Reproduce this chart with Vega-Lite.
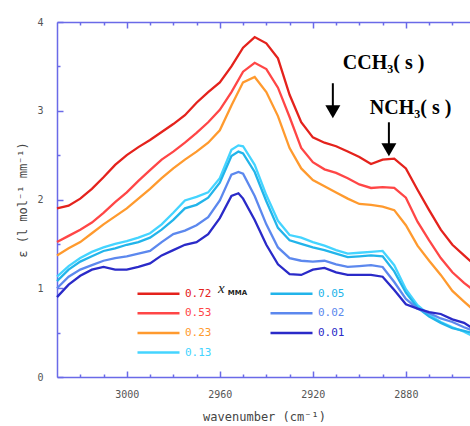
{
  "$schema": "https://vega.github.io/schema/vega-lite/v6.json",
  "width": 414,
  "height": 355,
  "autosize": {"type": "none"},
  "padding": {"left": 57, "top": 22, "right": 0, "bottom": 49},
  "config": {
    "view": {"stroke": null},
    "axis": {
      "domainColor": "#6a6ae8",
      "tickColor": "#6a6ae8",
      "domainWidth": 1.5,
      "tickWidth": 1.5,
      "grid": false,
      "labelFont": "DejaVu Sans Mono",
      "titleFont": "DejaVu Sans Mono",
      "labelColor": "#555555",
      "titleColor": "#444444",
      "labelFontSize": 10,
      "titleFontSize": 12,
      "titleFontWeight": "normal"
    }
  },
  "datasets": {
    "curves": [
      {"x":"0.72","wn":3030,"e":1.90},{"x":"0.72","wn":3025,"e":1.93},{"x":"0.72","wn":3020,"e":2.01},{"x":"0.72","wn":3015,"e":2.12},{"x":"0.72","wn":3010,"e":2.25},{"x":"0.72","wn":3005,"e":2.39},{"x":"0.72","wn":3000,"e":2.50},{"x":"0.72","wn":2995,"e":2.59},{"x":"0.72","wn":2990,"e":2.67},{"x":"0.72","wn":2985,"e":2.76},{"x":"0.72","wn":2980,"e":2.85},{"x":"0.72","wn":2975,"e":2.95},{"x":"0.72","wn":2970,"e":3.09},{"x":"0.72","wn":2965,"e":3.21},{"x":"0.72","wn":2960,"e":3.32},{"x":"0.72","wn":2955,"e":3.50},{"x":"0.72","wn":2950,"e":3.71},{"x":"0.72","wn":2945,"e":3.83},{"x":"0.72","wn":2940,"e":3.76},{"x":"0.72","wn":2935,"e":3.59},{"x":"0.72","wn":2930,"e":3.18},{"x":"0.72","wn":2925,"e":2.87},{"x":"0.72","wn":2920,"e":2.70},{"x":"0.72","wn":2915,"e":2.64},{"x":"0.72","wn":2910,"e":2.60},{"x":"0.72","wn":2905,"e":2.54},{"x":"0.72","wn":2900,"e":2.48},{"x":"0.72","wn":2895,"e":2.40},{"x":"0.72","wn":2890,"e":2.45},{"x":"0.72","wn":2885,"e":2.46},{"x":"0.72","wn":2880,"e":2.35},{"x":"0.72","wn":2875,"e":2.11},{"x":"0.72","wn":2870,"e":1.88},{"x":"0.72","wn":2865,"e":1.66},{"x":"0.72","wn":2860,"e":1.49},{"x":"0.72","wn":2855,"e":1.37},{"x":"0.72","wn":2852,"e":1.30},
      {"x":"0.53","wn":3030,"e":1.52},{"x":"0.53","wn":3025,"e":1.59},{"x":"0.53","wn":3020,"e":1.66},{"x":"0.53","wn":3015,"e":1.74},{"x":"0.53","wn":3010,"e":1.85},{"x":"0.53","wn":3005,"e":1.97},{"x":"0.53","wn":3000,"e":2.08},{"x":"0.53","wn":2995,"e":2.21},{"x":"0.53","wn":2990,"e":2.33},{"x":"0.53","wn":2985,"e":2.45},{"x":"0.53","wn":2980,"e":2.54},{"x":"0.53","wn":2975,"e":2.64},{"x":"0.53","wn":2970,"e":2.75},{"x":"0.53","wn":2965,"e":2.87},{"x":"0.53","wn":2960,"e":3.01},{"x":"0.53","wn":2955,"e":3.21},{"x":"0.53","wn":2950,"e":3.44},{"x":"0.53","wn":2945,"e":3.54},{"x":"0.53","wn":2940,"e":3.47},{"x":"0.53","wn":2935,"e":3.26},{"x":"0.53","wn":2930,"e":2.93},{"x":"0.53","wn":2925,"e":2.58},{"x":"0.53","wn":2920,"e":2.42},{"x":"0.53","wn":2915,"e":2.34},{"x":"0.53","wn":2910,"e":2.30},{"x":"0.53","wn":2905,"e":2.24},{"x":"0.53","wn":2900,"e":2.17},{"x":"0.53","wn":2895,"e":2.13},{"x":"0.53","wn":2890,"e":2.14},{"x":"0.53","wn":2885,"e":2.13},{"x":"0.53","wn":2880,"e":2.02},{"x":"0.53","wn":2875,"e":1.75},{"x":"0.53","wn":2870,"e":1.54},{"x":"0.53","wn":2865,"e":1.34},{"x":"0.53","wn":2860,"e":1.18},{"x":"0.53","wn":2855,"e":1.06},{"x":"0.53","wn":2852,"e":1.00},
      {"x":"0.23","wn":3030,"e":1.37},{"x":"0.23","wn":3025,"e":1.45},{"x":"0.23","wn":3020,"e":1.52},{"x":"0.23","wn":3015,"e":1.62},{"x":"0.23","wn":3010,"e":1.72},{"x":"0.23","wn":3005,"e":1.81},{"x":"0.23","wn":3000,"e":1.90},{"x":"0.23","wn":2995,"e":2.01},{"x":"0.23","wn":2990,"e":2.12},{"x":"0.23","wn":2985,"e":2.24},{"x":"0.23","wn":2980,"e":2.35},{"x":"0.23","wn":2975,"e":2.45},{"x":"0.23","wn":2970,"e":2.54},{"x":"0.23","wn":2965,"e":2.64},{"x":"0.23","wn":2960,"e":2.78},{"x":"0.23","wn":2955,"e":3.06},{"x":"0.23","wn":2950,"e":3.32},{"x":"0.23","wn":2945,"e":3.38},{"x":"0.23","wn":2940,"e":3.21},{"x":"0.23","wn":2935,"e":2.94},{"x":"0.23","wn":2930,"e":2.58},{"x":"0.23","wn":2925,"e":2.35},{"x":"0.23","wn":2920,"e":2.22},{"x":"0.23","wn":2915,"e":2.15},{"x":"0.23","wn":2910,"e":2.08},{"x":"0.23","wn":2905,"e":2.01},{"x":"0.23","wn":2900,"e":1.95},{"x":"0.23","wn":2895,"e":1.94},{"x":"0.23","wn":2890,"e":1.92},{"x":"0.23","wn":2885,"e":1.88},{"x":"0.23","wn":2880,"e":1.71},{"x":"0.23","wn":2875,"e":1.48},{"x":"0.23","wn":2870,"e":1.31},{"x":"0.23","wn":2865,"e":1.15},{"x":"0.23","wn":2860,"e":0.97},{"x":"0.23","wn":2855,"e":0.85},{"x":"0.23","wn":2852,"e":0.78},
      {"x":"0.13","wn":3030,"e":1.13},{"x":"0.13","wn":3025,"e":1.25},{"x":"0.13","wn":3020,"e":1.34},{"x":"0.13","wn":3015,"e":1.41},{"x":"0.13","wn":3010,"e":1.46},{"x":"0.13","wn":3005,"e":1.50},{"x":"0.13","wn":3000,"e":1.53},{"x":"0.13","wn":2995,"e":1.57},{"x":"0.13","wn":2990,"e":1.62},{"x":"0.13","wn":2985,"e":1.72},{"x":"0.13","wn":2980,"e":1.85},{"x":"0.13","wn":2975,"e":1.99},{"x":"0.13","wn":2970,"e":2.03},{"x":"0.13","wn":2965,"e":2.08},{"x":"0.13","wn":2960,"e":2.24},{"x":"0.13","wn":2955,"e":2.56},{"x":"0.13","wn":2952,"e":2.61},{"x":"0.13","wn":2950,"e":2.60},{"x":"0.13","wn":2945,"e":2.39},{"x":"0.13","wn":2940,"e":2.05},{"x":"0.13","wn":2935,"e":1.76},{"x":"0.13","wn":2930,"e":1.60},{"x":"0.13","wn":2925,"e":1.57},{"x":"0.13","wn":2920,"e":1.52},{"x":"0.13","wn":2915,"e":1.48},{"x":"0.13","wn":2910,"e":1.43},{"x":"0.13","wn":2905,"e":1.39},{"x":"0.13","wn":2900,"e":1.40},{"x":"0.13","wn":2895,"e":1.41},{"x":"0.13","wn":2890,"e":1.42},{"x":"0.13","wn":2885,"e":1.26},{"x":"0.13","wn":2880,"e":0.99},{"x":"0.13","wn":2875,"e":0.81},{"x":"0.13","wn":2870,"e":0.70},{"x":"0.13","wn":2865,"e":0.62},{"x":"0.13","wn":2860,"e":0.56},{"x":"0.13","wn":2855,"e":0.51},{"x":"0.13","wn":2852,"e":0.47},
      {"x":"0.05","wn":3030,"e":1.08},{"x":"0.05","wn":3025,"e":1.21},{"x":"0.05","wn":3020,"e":1.30},{"x":"0.05","wn":3015,"e":1.36},{"x":"0.05","wn":3010,"e":1.42},{"x":"0.05","wn":3005,"e":1.45},{"x":"0.05","wn":3000,"e":1.49},{"x":"0.05","wn":2995,"e":1.52},{"x":"0.05","wn":2990,"e":1.57},{"x":"0.05","wn":2985,"e":1.66},{"x":"0.05","wn":2980,"e":1.77},{"x":"0.05","wn":2975,"e":1.90},{"x":"0.05","wn":2970,"e":1.94},{"x":"0.05","wn":2965,"e":2.02},{"x":"0.05","wn":2960,"e":2.19},{"x":"0.05","wn":2955,"e":2.49},{"x":"0.05","wn":2952,"e":2.54},{"x":"0.05","wn":2950,"e":2.52},{"x":"0.05","wn":2945,"e":2.31},{"x":"0.05","wn":2940,"e":1.98},{"x":"0.05","wn":2935,"e":1.68},{"x":"0.05","wn":2930,"e":1.54},{"x":"0.05","wn":2925,"e":1.50},{"x":"0.05","wn":2920,"e":1.46},{"x":"0.05","wn":2915,"e":1.43},{"x":"0.05","wn":2910,"e":1.39},{"x":"0.05","wn":2905,"e":1.35},{"x":"0.05","wn":2900,"e":1.36},{"x":"0.05","wn":2895,"e":1.37},{"x":"0.05","wn":2890,"e":1.36},{"x":"0.05","wn":2885,"e":1.19},{"x":"0.05","wn":2880,"e":0.95},{"x":"0.05","wn":2875,"e":0.78},{"x":"0.05","wn":2870,"e":0.68},{"x":"0.05","wn":2865,"e":0.61},{"x":"0.05","wn":2860,"e":0.55},{"x":"0.05","wn":2855,"e":0.52},{"x":"0.05","wn":2852,"e":0.50},
      {"x":"0.02","wn":3030,"e":1.00},{"x":"0.02","wn":3025,"e":1.13},{"x":"0.02","wn":3020,"e":1.21},{"x":"0.02","wn":3015,"e":1.26},{"x":"0.02","wn":3010,"e":1.31},{"x":"0.02","wn":3005,"e":1.34},{"x":"0.02","wn":3000,"e":1.36},{"x":"0.02","wn":2995,"e":1.39},{"x":"0.02","wn":2990,"e":1.42},{"x":"0.02","wn":2985,"e":1.52},{"x":"0.02","wn":2980,"e":1.61},{"x":"0.02","wn":2975,"e":1.65},{"x":"0.02","wn":2970,"e":1.71},{"x":"0.02","wn":2965,"e":1.80},{"x":"0.02","wn":2960,"e":1.99},{"x":"0.02","wn":2955,"e":2.28},{"x":"0.02","wn":2952,"e":2.31},{"x":"0.02","wn":2950,"e":2.29},{"x":"0.02","wn":2945,"e":2.04},{"x":"0.02","wn":2940,"e":1.72},{"x":"0.02","wn":2935,"e":1.46},{"x":"0.02","wn":2930,"e":1.34},{"x":"0.02","wn":2925,"e":1.31},{"x":"0.02","wn":2920,"e":1.30},{"x":"0.02","wn":2915,"e":1.31},{"x":"0.02","wn":2910,"e":1.27},{"x":"0.02","wn":2905,"e":1.24},{"x":"0.02","wn":2900,"e":1.25},{"x":"0.02","wn":2895,"e":1.26},{"x":"0.02","wn":2890,"e":1.24},{"x":"0.02","wn":2885,"e":1.07},{"x":"0.02","wn":2880,"e":0.88},{"x":"0.02","wn":2875,"e":0.77},{"x":"0.02","wn":2870,"e":0.72},{"x":"0.02","wn":2865,"e":0.66},{"x":"0.02","wn":2860,"e":0.62},{"x":"0.02","wn":2855,"e":0.56},{"x":"0.02","wn":2852,"e":0.53},
      {"x":"0.01","wn":3030,"e":0.90},{"x":"0.01","wn":3025,"e":1.04},{"x":"0.01","wn":3020,"e":1.14},{"x":"0.01","wn":3015,"e":1.21},{"x":"0.01","wn":3010,"e":1.24},{"x":"0.01","wn":3005,"e":1.21},{"x":"0.01","wn":3000,"e":1.21},{"x":"0.01","wn":2995,"e":1.24},{"x":"0.01","wn":2990,"e":1.28},{"x":"0.01","wn":2985,"e":1.37},{"x":"0.01","wn":2980,"e":1.43},{"x":"0.01","wn":2975,"e":1.49},{"x":"0.01","wn":2970,"e":1.52},{"x":"0.01","wn":2965,"e":1.61},{"x":"0.01","wn":2960,"e":1.79},{"x":"0.01","wn":2955,"e":2.04},{"x":"0.01","wn":2952,"e":2.07},{"x":"0.01","wn":2950,"e":2.01},{"x":"0.01","wn":2945,"e":1.77},{"x":"0.01","wn":2940,"e":1.49},{"x":"0.01","wn":2935,"e":1.27},{"x":"0.01","wn":2930,"e":1.16},{"x":"0.01","wn":2925,"e":1.15},{"x":"0.01","wn":2920,"e":1.21},{"x":"0.01","wn":2915,"e":1.23},{"x":"0.01","wn":2910,"e":1.18},{"x":"0.01","wn":2905,"e":1.15},{"x":"0.01","wn":2900,"e":1.15},{"x":"0.01","wn":2895,"e":1.15},{"x":"0.01","wn":2890,"e":1.13},{"x":"0.01","wn":2885,"e":0.98},{"x":"0.01","wn":2880,"e":0.82},{"x":"0.01","wn":2875,"e":0.77},{"x":"0.01","wn":2870,"e":0.73},{"x":"0.01","wn":2865,"e":0.71},{"x":"0.01","wn":2860,"e":0.65},{"x":"0.01","wn":2855,"e":0.61},{"x":"0.01","wn":2852,"e":0.56}
    ],
    "arrows": [
      {"wn": 2911.4, "e": 3.31, "e1": 2.99},
      {"wn": 2887.3, "e": 2.87, "e1": 2.56}
    ],
    "notes": [
      {"wn": 2907.1, "e": 3.54, "t": "CCH₃(  s  )"},
      {"wn": 2895.5, "e": 3.03, "t": "NCH₃(  s  )"}
    ],
    "legtitle": [
      {"wn": 2959.3, "e": 1.0, "t": "x"},
      {"wn": 2956.6, "e": 0.95, "t": "MMA"}
    ]
  },
  "layer": [
    {
      "data": {"name": "curves"},
      "mark": {"type": "line", "strokeWidth": 2.3},
      "encoding": {
        "x": {
          "field": "wn", "type": "quantitative",
          "scale": {"domain": [2852, 3030], "reverse": true, "nice": false, "zero": false},
          "axis": {
            "orient": "bottom",
            "values": [3020,3010,3000,2990,2980,2970,2960,2950,2940,2930,2920,2910,2900,2890,2880,2870,2860],
            "format": "d",
            "labelExpr": "datum.value % 40 === 0 ? datum.label : ''",
            "tickSize": {"condition": {"test": "datum.value % 40 === 0", "value": -6}, "value": -3},
            "labelPadding": 18,
            "labelOverlap": false,
            "labelFlush": false,
            "title": "wavenumber (cm⁻¹)",
            "titlePadding": 9
          }
        },
        "y": {
          "field": "e", "type": "quantitative",
          "scale": {"domain": [0, 4], "nice": false, "zero": true},
          "axis": {
            "orient": "left",
            "values": [0,0.5,1,1.5,2,2.5,3,3.5,4],
            "format": "~g",
            "labelExpr": "datum.value % 1 === 0 ? datum.label : ''",
            "tickSize": {"condition": {"test": "datum.value % 1 === 0", "value": -6}, "value": -3},
            "labelPadding": 20,
            "labelOverlap": false,
            "labelFlush": false,
            "title": "ε (l mol⁻¹ mm⁻¹)",
            "titlePadding": 7
          }
        },
        "color": {
          "field": "x", "type": "nominal",
          "scale": {
            "domain": ["0.72","0.53","0.23","0.13","0.05","0.02","0.01"],
            "range": ["#e4221c","#ff4646","#ff9a2e","#44d4ff","#22b4ea","#5c88ee","#2a2ac8"]
          },
          "legend": {
            "orient": "none",
            "legendX": 79,
            "legendY": 263,
            "columns": 2,
            "columnPadding": 53,
            "rowPadding": 5.7,
            "title": null,
            "padding": 0,
            "symbolType": "M-1,0H5",
            "symbolSize": 196,
            "symbolStrokeWidth": 2.5,
            "labelOffset": 32,
            "labelFont": "DejaVu Sans Mono",
            "labelFontSize": 11,
            "encode": {"labels": {"update": {"fill": {"scale": "color", "field": "value"}}}}
          }
        }
      }
    },
    {
      "data": {"name": "arrows"},
      "mark": {"type": "rule", "strokeWidth": 2, "color": "black"},
      "encoding": {
        "x": {
          "field": "wn", "type": "quantitative",
          "scale": {"domain": [2852, 3030], "reverse": true, "nice": false, "zero": false},
          "axis": {
            "orient": "top",
            "values": [3020,3010,3000,2990,2980,2970,2960,2950,2940,2930,2920,2910,2900,2890,2880,2870,2860],
            "labels": false,
            "title": null,
            "tickSize": {"condition": {"test": "datum.value % 40 === 0", "value": -6}, "value": -3}
          }
        },
        "y": {"field": "e", "type": "quantitative"},
        "y2": {"field": "e1"}
      }
    },
    {
      "data": {"name": "arrows"},
      "mark": {"type": "point", "shape": "triangle-down", "filled": true, "size": 225, "color": "black", "opacity": 1},
      "encoding": {
        "x": {"field": "wn", "type": "quantitative", "axis": null},
        "y": {"field": "e1", "type": "quantitative"}
      }
    },
    {
      "data": {"name": "notes"},
      "mark": {"type": "text", "align": "left", "baseline": "middle", "font": "Liberation Serif", "fontWeight": "bold", "fontSize": 20, "color": "black"},
      "encoding": {
        "x": {"field": "wn", "type": "quantitative", "axis": null},
        "y": {"field": "e", "type": "quantitative"},
        "text": {"field": "t"}
      }
    },
    {
      "data": {"name": "legtitle"},
      "transform": [{"filter": "datum.t === 'x'"}],
      "mark": {"type": "text", "align": "center", "baseline": "middle", "font": "Liberation Serif", "fontStyle": "italic", "fontSize": 15, "color": "#222222"},
      "encoding": {
        "x": {"field": "wn", "type": "quantitative", "axis": null},
        "y": {"field": "e", "type": "quantitative"},
        "text": {"field": "t"}
      }
    },
    {
      "data": {"name": "legtitle"},
      "transform": [{"filter": "datum.t === 'MMA'"}],
      "mark": {"type": "text", "align": "left", "baseline": "middle", "font": "DejaVu Sans", "fontWeight": "bold", "fontSize": 7, "color": "#222222"},
      "encoding": {
        "x": {"field": "wn", "type": "quantitative", "axis": null},
        "y": {"field": "e", "type": "quantitative"},
        "text": {"field": "t"}
      }
    }
  ],
  "resolve": {"axis": {"x": "independent", "y": "shared"}}
}
